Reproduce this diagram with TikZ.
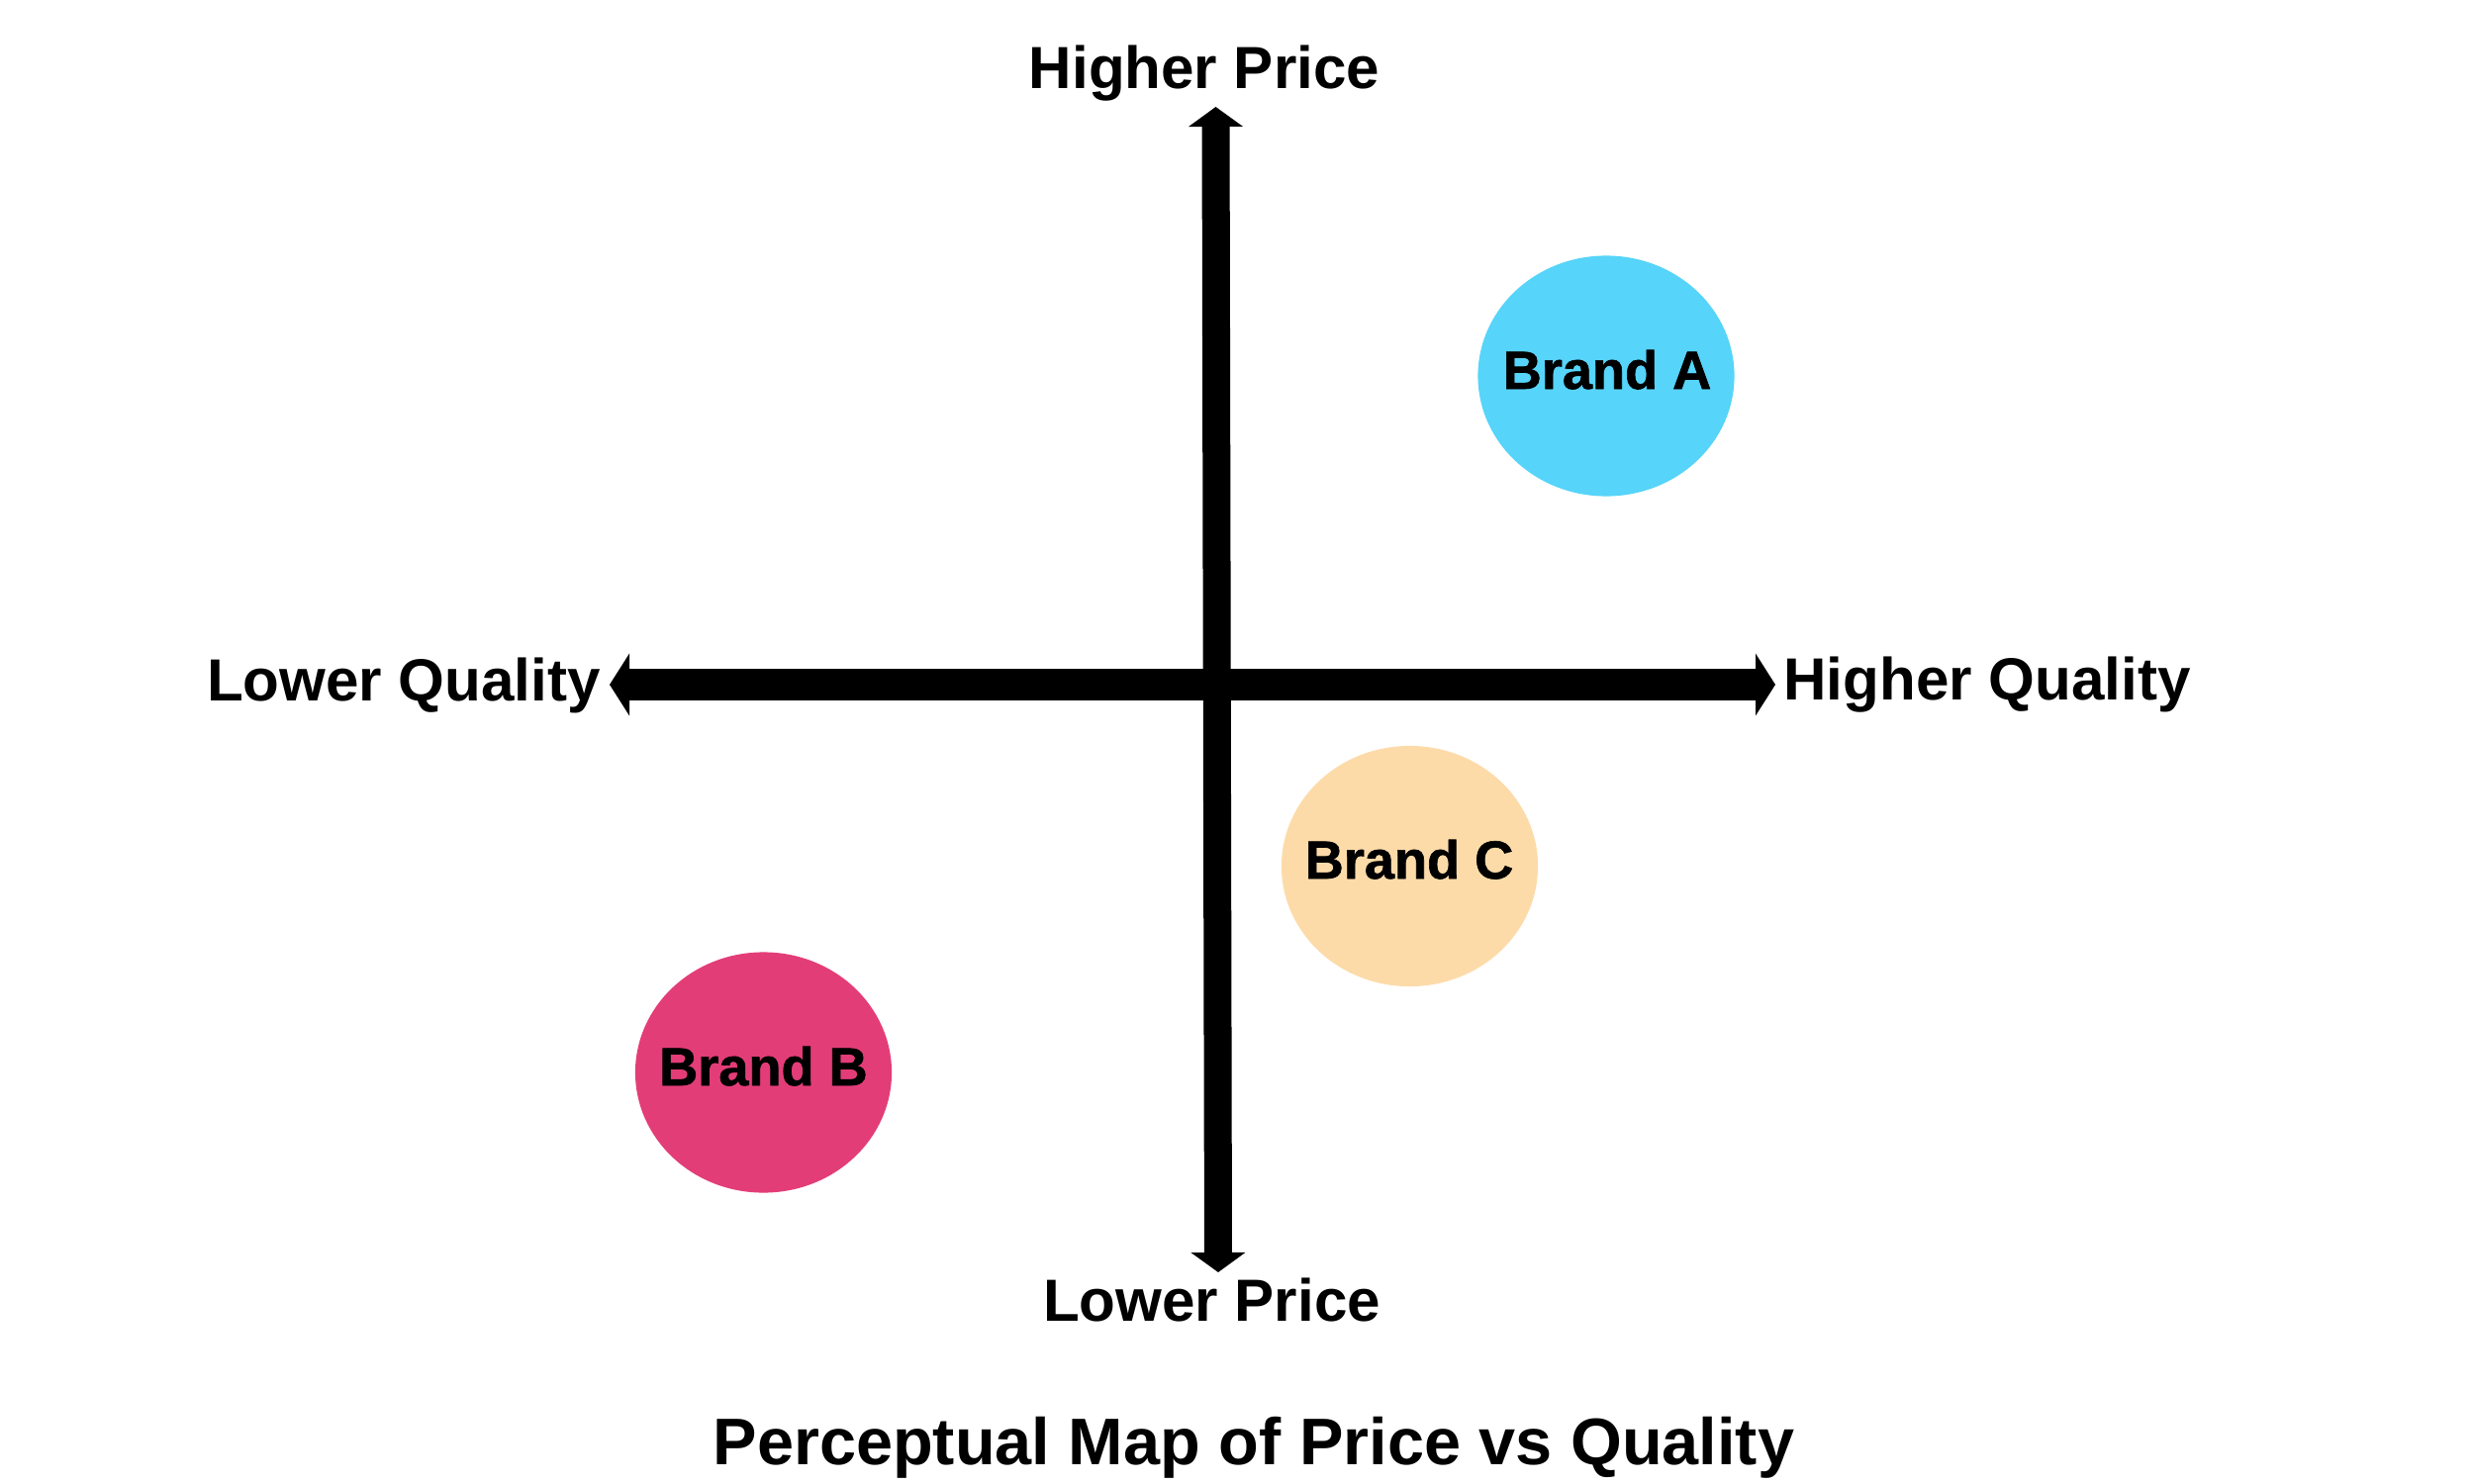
\documentclass[tikz,border=0pt]{standalone}
\usepackage{fontspec}
\setmainfont{Liberation Sans}
\newfontfamily\brandfont{Liberation Sans}[BoldFeatures={FakeBold=1.2}]
\usetikzlibrary{arrows.meta,shapes.geometric}
\definecolor{brandAcol}{HTML}{56D4FA}
\definecolor{brandBcol}{HTML}{E33D77}
\definecolor{brandCcol}{HTML}{FDDBA9}
\begin{document}
\begin{tikzpicture}[x=0.01cm,y=-0.01cm,
  axislabel/.style={font=\bfseries\fontsize{17.1pt}{20pt}\selectfont, inner sep=0pt, anchor=base},
  titlelabel/.style={font=\bfseries\fontsize{18.95pt}{22pt}\selectfont, inner sep=0pt, anchor=base},
  brandtext/.style={font=\brandfont\bfseries\fontsize{15.4pt}{18pt}\selectfont, inner sep=0pt, anchor=base},
  brandblob/.style={ellipse, draw=none, inner sep=0pt, minimum width=2.59cm, minimum height=2.43cm},
  vaxis/.style={line width=0.28cm, {Triangle[length=0.2cm,width=0.54cm]}-{Triangle[length=0.2cm,width=0.54cm]}},
  haxis/.style={line width=0.32cm, {Triangle[length=0.2cm,width=0.62cm]}-{Triangle[length=0.2cm,width=0.62cm]}}
]
\useasboundingbox[fill=white] (0,0) rectangle (2500,1500);

% axes
\coordinate (ytop) at (1228.5,108);
\coordinate (ybot) at (1231,1286);
\coordinate (xleft) at (616,692);
\coordinate (xright) at (1794,692);
\draw[haxis] (xleft) -- (xright);
\draw[vaxis] (ybot) -- (ytop);

% axis labels
\node[axislabel] (hp) at (1217,90) {Higher Price};
\node[axislabel] (lp) at (1224.5,1335) {Lower Price};
\node[axislabel] (lq) at (408,708) {Lower Quality};
\node[axislabel] (hq) at (2008,707) {Higher Quality};

% brands
\node[brandblob, fill=brandAcol] (bA) at (1623,380) {};
\node[brandblob, fill=brandCcol] (bC) at (1424.5,875.5) {};
\node[brandblob, fill=brandBcol] (bB) at (771.5,1084) {};
\node[brandtext] (tA) at (1624,393) {Brand A};
\node[brandtext] (tC) at (1424,888) {Brand C};
\node[brandtext] (tB) at (771.5,1097) {Brand B};

% title
\node[titlelabel] (title) at (1267,1480) {Perceptual Map of Price vs Quality};
\end{tikzpicture}
\end{document}
